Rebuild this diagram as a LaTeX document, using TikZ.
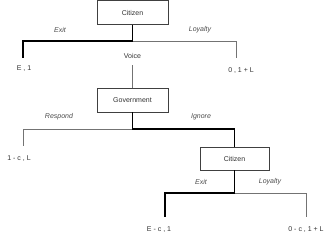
\documentclass[tikz,border=0pt]{standalone}
\usepackage{fontspec}
\setmainfont{Liberation Sans}
\begin{document}
\begin{tikzpicture}[x=1pt,y=-1pt,
  box/.style={draw=black!75,line width=0.8pt,fill=white,inner sep=0pt,font=\fontsize{7}{8}\selectfont,text=black!80},
  lbl/.style={font=\fontsize{7}{8}\selectfont\itshape,text=black!70,inner sep=0pt},
  pay/.style={font=\fontsize{7}{8}\selectfont,text=black!80,inner sep=0pt},
  heavy/.style={line width=1.5pt,black},
  light/.style={line width=0.7pt,black!55}]
\useasboundingbox (0,0) rectangle (330,236);
% boxes
\node[box,minimum width=71pt,minimum height=23.5pt] (c1) at (132.5,12.5) {Citizen};
\node[box,minimum width=71pt,minimum height=24pt] (gov) at (132.5,100) {Government};
\node[box,minimum width=69pt,minimum height=23pt] (c2) at (234.5,158.5) {Citizen};
% junction coordinates
\coordinate (j1) at (132.5,41);
\coordinate (l1) at (23,41);
\coordinate (r1) at (236,41);
\coordinate (le1) at (23,58);
\coordinate (re1) at (236,58);
\coordinate (v1) at (132.5,65);
\coordinate (j2) at (132.5,129);
\coordinate (l2) at (23,129);
\coordinate (le2) at (23,146);
\coordinate (r2) at (234.5,129);
\coordinate (j3) at (234.5,193);
\coordinate (l3) at (165,193);
\coordinate (r3) at (306,193);
\coordinate (le3) at (165,217);
\coordinate (re3) at (306,217);
% labels
\node[lbl] (ex1) at (60,29.5) {Exit};
\node[lbl] (lo1) at (200,29.5) {Loyalty};
\node[pay] (vo) at (132.5,56) {Voice};
\node[pay] (p1) at (24,69) {E , 1};
\node[pay] (p2) at (241,71) {0 , 1 + L};
\node[lbl] (rs) at (59,117) {Respond};
\node[lbl] (ig) at (201,117) {Ignore};
\node[pay] (p3) at (19,159) {1 - c , L};
\node[lbl] (ex2) at (201,182) {Exit};
\node[lbl] (lo2) at (270,182) {Loyalty};
\node[pay] (p4) at (159,230) {E - c , 1};
\node[pay] (p5) at (306,230) {0 - c , 1 + L};
% connectors
\draw[light] (j1) -- (r1) -- (re1);
\draw[light] (v1) -- (gov.north);
\draw[heavy] (c1.south) -- (j1) -- (l1) -- (le1);
\draw[light] (j2) -- (l2) -- (le2);
\draw[heavy] (gov.south) -- (j2) -- (r2) -- (c2.north);
\draw[light] (j3) -- (r3) -- (re3);
\draw[heavy] (c2.south) -- (j3) -- (l3) -- (le3);
\end{tikzpicture}
\end{document}
